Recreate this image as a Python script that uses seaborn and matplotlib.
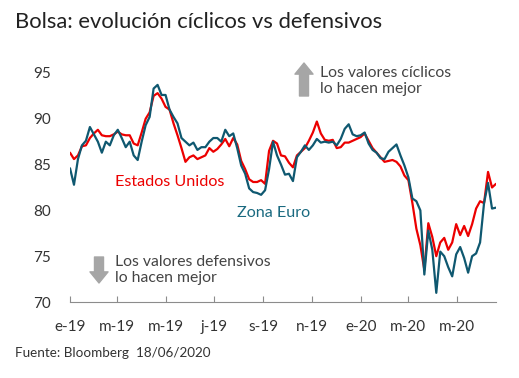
import pandas as pd
import numpy as np
import matplotlib
matplotlib.use("Agg")
import matplotlib.pyplot as plt
import seaborn as sns

# ===============================
# DATA (one point every 5 days)
# ===============================
dates = pd.date_range("2019-01-01", periods=108, freq="5D")

estados_unidos = [
    86.3, 85.6, 86.0, 87.0, 87.1, 87.9, 88.4, 88.8, 88.2, 88.1,
    88.1, 88.3, 88.6, 88.3, 88.2, 88.2, 87.3, 87.1, 88.5, 90.0,
    90.7, 92.5, 92.8, 92.2, 91.3, 91.0, 89.5, 88.2, 86.8, 85.3,
    85.8, 86.0, 85.6, 85.8, 86.0, 86.8, 86.4, 86.7, 87.2, 87.8,
    87.0, 87.9, 87.2, 85.4, 84.5, 83.4, 83.1, 83.1, 83.3, 82.9,
    86.5, 87.6, 87.3, 86.0, 85.9, 85.2, 84.7, 86.0, 86.4, 86.8,
    87.6, 88.5, 89.7, 88.4, 87.7, 87.6, 87.7, 86.8, 86.9, 87.4,
    87.4, 87.6, 87.8, 88.0, 88.4, 87.6, 86.8, 86.3, 85.8, 85.3,
    85.4, 85.5, 85.3, 84.8, 83.8, 83.3, 80.8, 78.0, 76.2, 73.5,
    78.6, 77.1, 75.0, 76.5, 77.0, 75.7, 76.5, 78.5, 77.3, 78.3,
    77.2, 78.5, 80.2, 81.0, 80.8, 84.2, 82.5, 82.9,
]

zona_euro = [
    84.6, 82.8, 85.6, 87.1, 87.6, 89.1, 88.3, 87.5, 86.3, 87.5,
    87.1, 88.2, 88.8, 87.9, 86.9, 87.5, 86.0, 85.5, 87.5, 89.3,
    90.2, 93.3, 93.7, 92.6, 92.6, 91.0, 90.2, 89.5, 87.9, 87.5,
    87.1, 87.4, 86.6, 86.9, 86.9, 87.5, 87.9, 87.9, 87.5, 88.8,
    88.1, 88.4, 86.8, 84.9, 84.0, 82.4, 82.0, 81.9, 81.7, 82.2,
    84.5, 87.5, 86.0, 85.0, 83.9, 84.0, 83.2, 85.8, 86.4, 87.1,
    86.6, 87.1, 87.8, 87.4, 87.5, 87.4, 87.5, 87.1, 87.8, 88.9,
    89.4, 88.3, 88.1, 88.2, 88.5, 87.3, 86.6, 86.3, 85.7, 85.6,
    86.4, 86.8, 87.2, 86.0, 84.9, 83.6, 81.3, 81.0, 80.0, 73.0,
    77.8, 75.7, 71.0, 75.5, 75.0, 73.8, 72.8, 75.2, 76.0, 74.8,
    73.2, 75.0, 75.3, 76.5, 80.8, 83.0, 80.2, 80.3,
]

tick_dates = ["2019-01-01", "2019-03-01", "2019-05-01", "2019-07-01", "2019-09-01",
              "2019-11-01", "2020-01-01", "2020-03-01", "2020-05-01"]
tick_labels = ["e-19", "m-19", "m-19", "j-19", "s-19", "n-19", "e-20", "m-20", "m-20"]
y_ticks = [70, 75, 80, 85, 90, 95]

RED = "#EC0000"
TEAL = "#0F5870"
TEXT = "#333333"

df = pd.DataFrame({
    "fecha": list(dates) * 2,
    "valor": estados_unidos + zona_euro,
    "serie": ["Estados Unidos"] * len(dates) + ["Zona Euro"] * len(dates),
})

# ===============================
# PLOT
# ===============================
sns.set_theme(style="white")
plt.rcParams["font.family"] = ["Lato", "DejaVu Sans"]

W, H = 519, 378
fig = plt.figure(figsize=(W / 100, H / 100), dpi=100)
ax = fig.add_axes([70 / W, 1 - 302 / H, (496 - 70) / W, (302 - 68.4) / H])

sns.lineplot(data=df, x="fecha", y="valor", hue="serie",
             palette={"Estados Unidos": RED, "Zona Euro": TEAL},
             hue_order=["Estados Unidos", "Zona Euro"],
             linewidth=1.6, legend=False, ax=ax)

ax.set_xlim(pd.Timestamp("2019-01-01"), pd.Timestamp("2020-06-19"))
ax.set_ylim(70, 95.5)
ax.set_xticks(pd.to_datetime(tick_dates))
ax.set_xticklabels(tick_labels)
ax.set_yticks(y_ticks)
ax.set_xlabel("")
ax.set_ylabel("")

for s in ["top", "right", "left"]:
    ax.spines[s].set_visible(False)
ax.spines["bottom"].set_color("#8c8c8c")
ax.spines["bottom"].set_linewidth(0.8)
ax.tick_params(axis="x", direction="in", length=4, width=0.8, color="#8c8c8c",
               pad=13, labelsize=11, labelcolor=TEXT, bottom=True)
ax.tick_params(axis="y", length=0, pad=14, labelsize=11, labelcolor=TEXT)
ax.grid(False)

# ===============================
# TEXTS
# ===============================
fig.text(15 / W, 1 - 22 / H, "Bolsa: evolución cíclicos vs defensivos",
         fontsize=15.8, color="#222222", va="center", ha="left")
fig.text(15 / W, 1 - 353 / H, "Fuente: Bloomberg  18/06/2020",
         fontsize=9.7, color=TEXT, va="center", ha="left")

fig.text(115 / W, 1 - 182 / H, "Estados Unidos", fontsize=11.6, color=RED,
         va="center", ha="left")
fig.text(237 / W, 1 - 213 / H, "Zona Euro", fontsize=11.6, color="#1A6A80",
         va="center", ha="left")

fig.text(320 / W, 1 - 81 / H, "Los valores cíclicos\nlo hacen mejor", fontsize=11.3,
         color="#444444", va="center", ha="left", linespacing=1.2)
fig.text(115 / W, 1 - 270 / H, "Los valores defensivos\nlo hacen mejor", fontsize=11.3,
         color="#444444", va="center", ha="left", linespacing=1.2)

# gray block arrows
arrow = dict(arrowstyle="simple,head_length=8,head_width=13,tail_width=6.5",
             color="#a6a6a6", mutation_scale=1, shrinkA=0, shrinkB=0)
ax.annotate("", xy=(304 / W, 1 - 63 / H), xytext=(304 / W, 1 - 96 / H),
            xycoords="figure fraction", textcoords="figure fraction",
            arrowprops=arrow, annotation_clip=False)
ax.annotate("", xy=(99 / W, 1 - 283 / H), xytext=(99 / W, 1 - 257 / H),
            xycoords="figure fraction", textcoords="figure fraction",
            arrowprops=arrow, annotation_clip=False)

fig.savefig("out.png", dpi=100)
